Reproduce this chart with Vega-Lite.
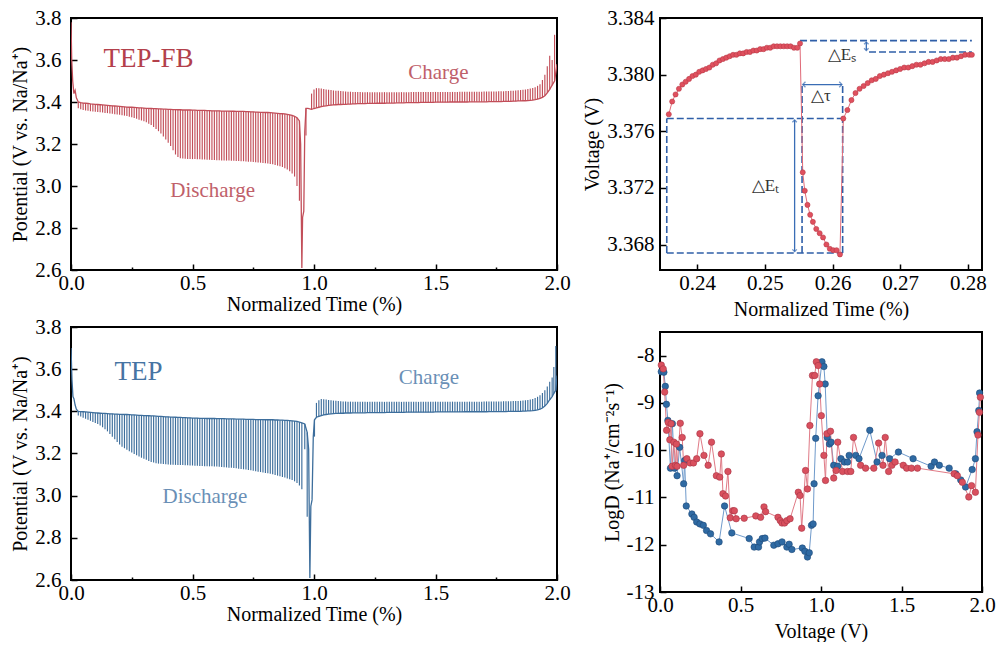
{
"$schema":"https://vega.github.io/schema/vega-lite/v6.json",
"background":"white",
"padding":{"left":9,"top":6,"right":0,"bottom":0},
"config":{
 "font":"Liberation Serif",
 "view":{"stroke":"black","strokeWidth":2},
 "style":{"guide-title":{"font":"Liberation Serif"},"guide-label":{"font":"Liberation Serif"}},
 "axis":{"domain":false,"grid":false,"labelFont":"Liberation Serif","labelFontSize":21,"labelColor":"black","titleFont":"Liberation Serif","titleFontSize":20,"titleFontWeight":"normal","titleColor":"black","tickColor":"black","tickWidth":1.5,"tickSize":-6,"labelPadding":8,"labelFlush":false,"labelOverlap":false},
 "axisY":{"labelPadding":16}
},
"datasets":{
 "fb":[
  {"t":0,"b":3.78},{"t":0.003,"b":3.6},{"t":0.007,"b":3.5},{"t":0.012,"b":3.44},{"t":0.017,"b":3.455},{"t":0.022,"b":3.42},
  {"t":0.03,"b":3.4,"s":3.37},{"t":0.04,"b":3.397,"s":3.366},{"t":0.05,"b":3.395,"s":3.362},{"t":0.06,"b":3.394,"s":3.36},{"t":0.07,"b":3.393,"s":3.358},{"t":0.08,"b":3.391,"s":3.356},{"t":0.09,"b":3.39,"s":3.355},{"t":0.1,"b":3.389,"s":3.353},{"t":0.11,"b":3.388,"s":3.352},{"t":0.12,"b":3.387,"s":3.351},{"t":0.13,"b":3.386,"s":3.35},{"t":0.14,"b":3.385,"s":3.348},{"t":0.15,"b":3.384,"s":3.347},{"t":0.16,"b":3.383,"s":3.345},{"t":0.17,"b":3.382,"s":3.344},{"t":0.18,"b":3.381,"s":3.342},{"t":0.19,"b":3.38,"s":3.341},{"t":0.2,"b":3.379,"s":3.339},{"t":0.21,"b":3.378,"s":3.337},{"t":0.22,"b":3.377,"s":3.335},{"t":0.23,"b":3.376,"s":3.333},{"t":0.24,"b":3.375,"s":3.33},{"t":0.25,"b":3.375,"s":3.327},{"t":0.26,"b":3.374,"s":3.324},{"t":0.27,"b":3.373,"s":3.32},{"t":0.28,"b":3.372,"s":3.316},{"t":0.29,"b":3.372,"s":3.312},{"t":0.3,"b":3.371,"s":3.308},{"t":0.31,"b":3.37,"s":3.303},{"t":0.32,"b":3.37,"s":3.297},{"t":0.33,"b":3.369,"s":3.29},{"t":0.34,"b":3.368,"s":3.281},{"t":0.35,"b":3.368,"s":3.272},{"t":0.36,"b":3.367,"s":3.261},{"t":0.37,"b":3.367,"s":3.25},{"t":0.38,"b":3.366,"s":3.236},{"t":0.39,"b":3.366,"s":3.222},{"t":0.4,"b":3.365,"s":3.206},{"t":0.41,"b":3.365,"s":3.19},{"t":0.42,"b":3.364,"s":3.17},{"t":0.43,"b":3.364,"s":3.15},{"t":0.44,"b":3.363,"s":3.138},{"t":0.45,"b":3.363,"s":3.132},{"t":0.46,"b":3.362,"s":3.131},{"t":0.47,"b":3.362,"s":3.13},{"t":0.48,"b":3.362,"s":3.129},{"t":0.49,"b":3.362,"s":3.128},{"t":0.5,"b":3.361,"s":3.128},{"t":0.51,"b":3.361,"s":3.128},{"t":0.52,"b":3.36,"s":3.127},{"t":0.53,"b":3.36,"s":3.127},{"t":0.54,"b":3.36,"s":3.126},{"t":0.55,"b":3.36,"s":3.126},{"t":0.56,"b":3.359,"s":3.125},{"t":0.57,"b":3.359,"s":3.125},{"t":0.58,"b":3.358,"s":3.124},{"t":0.59,"b":3.358,"s":3.124},{"t":0.6,"b":3.358,"s":3.123},{"t":0.61,"b":3.358,"s":3.123},{"t":0.62,"b":3.357,"s":3.122},{"t":0.63,"b":3.357,"s":3.122},{"t":0.64,"b":3.357,"s":3.121},{"t":0.65,"b":3.357,"s":3.121},{"t":0.66,"b":3.356,"s":3.12},{"t":0.67,"b":3.356,"s":3.12},{"t":0.68,"b":3.355,"s":3.119},{"t":0.69,"b":3.355,"s":3.119},{"t":0.7,"b":3.355,"s":3.118},{"t":0.71,"b":3.355,"s":3.118},{"t":0.72,"b":3.354,"s":3.117},{"t":0.73,"b":3.354,"s":3.116},{"t":0.74,"b":3.353,"s":3.115},{"t":0.75,"b":3.353,"s":3.114},{"t":0.76,"b":3.352,"s":3.113},{"t":0.77,"b":3.352,"s":3.112},{"t":0.78,"b":3.351,"s":3.111},{"t":0.79,"b":3.351,"s":3.11},{"t":0.8,"b":3.35,"s":3.108},{"t":0.81,"b":3.35,"s":3.107},{"t":0.82,"b":3.349,"s":3.105},{"t":0.83,"b":3.348,"s":3.103},{"t":0.84,"b":3.347,"s":3.1},{"t":0.85,"b":3.346,"s":3.097},{"t":0.86,"b":3.345,"s":3.094},{"t":0.87,"b":3.344,"s":3.09},{"t":0.88,"b":3.343,"s":3.085},{"t":0.89,"b":3.341,"s":3.078},{"t":0.9,"b":3.339,"s":3.07},{"t":0.91,"b":3.336,"s":3.06},{"t":0.92,"b":3.332,"s":3.045},{"t":0.93,"b":3.325,"s":3.0},
  {"t":0.94,"b":3.31,"s":2.93},{"t":0.945,"b":3.2},{"t":0.95,"b":2.61},{"t":0.953,"b":2.85},{"t":0.958,"b":2.88},{"t":0.962,"b":3.26},{"t":0.967,"b":3.37,"s":3.24},{"t":0.975,"b":3.37},
  {"t":0.99,"b":3.365,"s":3.44},{"t":1.0,"b":3.369,"s":3.46},{"t":1.01,"b":3.372,"s":3.466},{"t":1.02,"b":3.375,"s":3.465},{"t":1.03,"b":3.378,"s":3.464},{"t":1.04,"b":3.38,"s":3.462},{"t":1.05,"b":3.382,"s":3.46},{"t":1.06,"b":3.384,"s":3.458},{"t":1.07,"b":3.385,"s":3.457},{"t":1.08,"b":3.386,"s":3.455},{"t":1.09,"b":3.387,"s":3.454},{"t":1.1,"b":3.388,"s":3.453},{"t":1.11,"b":3.388,"s":3.452},{"t":1.12,"b":3.389,"s":3.451},{"t":1.13,"b":3.389,"s":3.45},{"t":1.14,"b":3.39,"s":3.449},{"t":1.15,"b":3.39,"s":3.449},{"t":1.16,"b":3.391,"s":3.448},{"t":1.17,"b":3.391,"s":3.448},{"t":1.18,"b":3.392,"s":3.448},{"t":1.19,"b":3.392,"s":3.448},{"t":1.2,"b":3.392,"s":3.447},{"t":1.21,"b":3.392,"s":3.447},{"t":1.22,"b":3.393,"s":3.447},{"t":1.23,"b":3.393,"s":3.447},{"t":1.24,"b":3.393,"s":3.447},{"t":1.25,"b":3.393,"s":3.447},{"t":1.26,"b":3.394,"s":3.447},{"t":1.27,"b":3.394,"s":3.447},{"t":1.28,"b":3.394,"s":3.447},{"t":1.29,"b":3.394,"s":3.447},{"t":1.3,"b":3.395,"s":3.447},{"t":1.31,"b":3.395,"s":3.447},{"t":1.32,"b":3.395,"s":3.447},{"t":1.33,"b":3.395,"s":3.447},{"t":1.34,"b":3.396,"s":3.447},{"t":1.35,"b":3.396,"s":3.447},{"t":1.36,"b":3.396,"s":3.447},{"t":1.37,"b":3.396,"s":3.447},{"t":1.38,"b":3.397,"s":3.447},{"t":1.39,"b":3.397,"s":3.447},{"t":1.4,"b":3.397,"s":3.448},{"t":1.41,"b":3.397,"s":3.448},{"t":1.42,"b":3.397,"s":3.448},{"t":1.43,"b":3.397,"s":3.448},{"t":1.44,"b":3.398,"s":3.448},{"t":1.45,"b":3.398,"s":3.448},{"t":1.46,"b":3.398,"s":3.448},{"t":1.47,"b":3.398,"s":3.448},{"t":1.48,"b":3.398,"s":3.448},{"t":1.49,"b":3.398,"s":3.448},{"t":1.5,"b":3.399,"s":3.448},{"t":1.51,"b":3.399,"s":3.448},{"t":1.52,"b":3.399,"s":3.448},{"t":1.53,"b":3.399,"s":3.448},{"t":1.54,"b":3.399,"s":3.448},{"t":1.55,"b":3.399,"s":3.448},{"t":1.56,"b":3.4,"s":3.448},{"t":1.57,"b":3.4,"s":3.448},{"t":1.58,"b":3.4,"s":3.448},{"t":1.59,"b":3.4,"s":3.448},{"t":1.6,"b":3.4,"s":3.449},{"t":1.61,"b":3.4,"s":3.449},{"t":1.62,"b":3.4,"s":3.449},{"t":1.63,"b":3.4,"s":3.449},{"t":1.64,"b":3.401,"s":3.449},{"t":1.65,"b":3.401,"s":3.449},{"t":1.66,"b":3.401,"s":3.449},{"t":1.67,"b":3.401,"s":3.449},{"t":1.68,"b":3.401,"s":3.449},{"t":1.69,"b":3.401,"s":3.449},{"t":1.7,"b":3.401,"s":3.45},{"t":1.71,"b":3.401,"s":3.45},{"t":1.72,"b":3.402,"s":3.45},{"t":1.73,"b":3.402,"s":3.45},{"t":1.74,"b":3.402,"s":3.45},{"t":1.75,"b":3.402,"s":3.45},{"t":1.76,"b":3.402,"s":3.451},{"t":1.77,"b":3.402,"s":3.451},{"t":1.78,"b":3.403,"s":3.451},{"t":1.79,"b":3.403,"s":3.452},{"t":1.8,"b":3.403,"s":3.452},{"t":1.81,"b":3.403,"s":3.453},{"t":1.82,"b":3.404,"s":3.454},{"t":1.83,"b":3.404,"s":3.455},{"t":1.84,"b":3.405,"s":3.456},{"t":1.85,"b":3.405,"s":3.457},{"t":1.86,"b":3.406,"s":3.458},{"t":1.87,"b":3.406,"s":3.46},{"t":1.88,"b":3.407,"s":3.462},{"t":1.89,"b":3.408,"s":3.464},{"t":1.9,"b":3.409,"s":3.467},{"t":1.91,"b":3.411,"s":3.47},{"t":1.92,"b":3.414,"s":3.477},{"t":1.93,"b":3.417,"s":3.485},{"t":1.94,"b":3.422,"s":3.505},{"t":1.95,"b":3.43,"s":3.53},{"t":1.96,"b":3.443,"s":3.57},{"t":1.97,"b":3.46,"s":3.62},{"t":1.98,"b":3.48,"s":3.6},{"t":1.99,"b":3.5,"s":3.72},{"t":2.0,"b":3.58}
 ],
 "tep":[
  {"t":0,"b":3.7},{"t":0.004,"b":3.55},{"t":0.008,"b":3.47},{"t":0.012,"b":3.46},{"t":0.017,"b":3.43},{"t":0.022,"b":3.41},
  {"t":0.03,"b":3.4,"s":3.38},{"t":0.04,"b":3.399,"s":3.375},{"t":0.05,"b":3.398,"s":3.37},{"t":0.06,"b":3.397,"s":3.365},{"t":0.07,"b":3.396,"s":3.36},{"t":0.08,"b":3.395,"s":3.355},{"t":0.09,"b":3.394,"s":3.35},{"t":0.1,"b":3.393,"s":3.345},{"t":0.11,"b":3.392,"s":3.34},{"t":0.12,"b":3.391,"s":3.333},{"t":0.13,"b":3.39,"s":3.325},{"t":0.14,"b":3.39,"s":3.315},{"t":0.15,"b":3.389,"s":3.305},{"t":0.16,"b":3.388,"s":3.293},{"t":0.17,"b":3.388,"s":3.28},{"t":0.18,"b":3.387,"s":3.267},{"t":0.19,"b":3.387,"s":3.255},{"t":0.2,"b":3.386,"s":3.243},{"t":0.21,"b":3.386,"s":3.232},{"t":0.22,"b":3.385,"s":3.225},{"t":0.23,"b":3.385,"s":3.218},{"t":0.24,"b":3.384,"s":3.211},{"t":0.25,"b":3.383,"s":3.205},{"t":0.26,"b":3.383,"s":3.198},{"t":0.27,"b":3.382,"s":3.192},{"t":0.28,"b":3.381,"s":3.186},{"t":0.29,"b":3.381,"s":3.18},{"t":0.3,"b":3.38,"s":3.175},{"t":0.31,"b":3.38,"s":3.17},{"t":0.32,"b":3.379,"s":3.165},{"t":0.33,"b":3.378,"s":3.16},{"t":0.34,"b":3.378,"s":3.157},{"t":0.35,"b":3.377,"s":3.154},{"t":0.36,"b":3.376,"s":3.152},{"t":0.37,"b":3.376,"s":3.151},{"t":0.38,"b":3.375,"s":3.15},{"t":0.39,"b":3.374,"s":3.149},{"t":0.4,"b":3.374,"s":3.148},{"t":0.41,"b":3.373,"s":3.147},{"t":0.42,"b":3.373,"s":3.147},{"t":0.43,"b":3.372,"s":3.146},{"t":0.44,"b":3.371,"s":3.146},{"t":0.45,"b":3.371,"s":3.145},{"t":0.46,"b":3.37,"s":3.145},{"t":0.47,"b":3.37,"s":3.144},{"t":0.48,"b":3.369,"s":3.144},{"t":0.49,"b":3.369,"s":3.143},{"t":0.5,"b":3.368,"s":3.143},{"t":0.51,"b":3.368,"s":3.142},{"t":0.52,"b":3.368,"s":3.142},{"t":0.53,"b":3.367,"s":3.141},{"t":0.54,"b":3.367,"s":3.141},{"t":0.55,"b":3.367,"s":3.14},{"t":0.56,"b":3.366,"s":3.14},{"t":0.57,"b":3.366,"s":3.139},{"t":0.58,"b":3.366,"s":3.139},{"t":0.59,"b":3.366,"s":3.138},{"t":0.6,"b":3.365,"s":3.138},{"t":0.61,"b":3.365,"s":3.137},{"t":0.62,"b":3.365,"s":3.136},{"t":0.63,"b":3.365,"s":3.135},{"t":0.64,"b":3.364,"s":3.134},{"t":0.65,"b":3.364,"s":3.133},{"t":0.66,"b":3.364,"s":3.132},{"t":0.67,"b":3.364,"s":3.131},{"t":0.68,"b":3.363,"s":3.13},{"t":0.69,"b":3.363,"s":3.128},{"t":0.7,"b":3.363,"s":3.127},{"t":0.71,"b":3.363,"s":3.125},{"t":0.72,"b":3.362,"s":3.124},{"t":0.73,"b":3.362,"s":3.122},{"t":0.74,"b":3.362,"s":3.12},{"t":0.75,"b":3.362,"s":3.118},{"t":0.76,"b":3.361,"s":3.116},{"t":0.77,"b":3.361,"s":3.114},{"t":0.78,"b":3.361,"s":3.112},{"t":0.79,"b":3.361,"s":3.11},{"t":0.8,"b":3.36,"s":3.108},{"t":0.81,"b":3.36,"s":3.106},{"t":0.82,"b":3.36,"s":3.104},{"t":0.83,"b":3.36,"s":3.101},{"t":0.84,"b":3.359,"s":3.098},{"t":0.85,"b":3.359,"s":3.095},{"t":0.86,"b":3.358,"s":3.092},{"t":0.87,"b":3.358,"s":3.089},{"t":0.88,"b":3.357,"s":3.086},{"t":0.89,"b":3.357,"s":3.082},{"t":0.9,"b":3.356,"s":3.078},{"t":0.91,"b":3.355,"s":3.074},{"t":0.92,"b":3.354,"s":3.068},{"t":0.93,"b":3.352,"s":3.06},{"t":0.94,"b":3.349,"s":3.048},{"t":0.95,"b":3.345,"s":3.03},
  {"t":0.962,"b":3.34,"s":3.22},{"t":0.972,"b":3.3,"s":2.9},{"t":0.978,"b":3.22},{"t":0.983,"b":2.61},{"t":0.987,"b":2.95},{"t":0.992,"b":2.98},{"t":0.997,"b":3.28},{"t":1.002,"b":3.36,"s":3.28},
  {"t":1.01,"b":3.372,"s":3.44},{"t":1.02,"b":3.376,"s":3.452},{"t":1.03,"b":3.38,"s":3.458},{"t":1.04,"b":3.383,"s":3.457},{"t":1.05,"b":3.385,"s":3.456},{"t":1.06,"b":3.387,"s":3.454},{"t":1.07,"b":3.388,"s":3.452},{"t":1.08,"b":3.389,"s":3.451},{"t":1.09,"b":3.39,"s":3.45},{"t":1.1,"b":3.39,"s":3.449},{"t":1.11,"b":3.391,"s":3.448},{"t":1.12,"b":3.391,"s":3.447},{"t":1.13,"b":3.392,"s":3.447},{"t":1.14,"b":3.392,"s":3.446},{"t":1.15,"b":3.392,"s":3.446},{"t":1.16,"b":3.393,"s":3.446},{"t":1.17,"b":3.393,"s":3.446},{"t":1.18,"b":3.393,"s":3.446},{"t":1.19,"b":3.393,"s":3.446},{"t":1.2,"b":3.393,"s":3.445},{"t":1.21,"b":3.393,"s":3.445},{"t":1.22,"b":3.394,"s":3.445},{"t":1.23,"b":3.394,"s":3.445},{"t":1.24,"b":3.394,"s":3.445},{"t":1.25,"b":3.394,"s":3.445},{"t":1.26,"b":3.394,"s":3.445},{"t":1.27,"b":3.394,"s":3.445},{"t":1.28,"b":3.394,"s":3.445},{"t":1.29,"b":3.394,"s":3.445},{"t":1.3,"b":3.395,"s":3.445},{"t":1.31,"b":3.395,"s":3.445},{"t":1.32,"b":3.395,"s":3.445},{"t":1.33,"b":3.395,"s":3.445},{"t":1.34,"b":3.395,"s":3.445},{"t":1.35,"b":3.395,"s":3.445},{"t":1.36,"b":3.395,"s":3.445},{"t":1.37,"b":3.395,"s":3.445},{"t":1.38,"b":3.396,"s":3.445},{"t":1.39,"b":3.396,"s":3.445},{"t":1.4,"b":3.396,"s":3.445},{"t":1.41,"b":3.396,"s":3.445},{"t":1.42,"b":3.396,"s":3.445},{"t":1.43,"b":3.396,"s":3.445},{"t":1.44,"b":3.396,"s":3.446},{"t":1.45,"b":3.396,"s":3.446},{"t":1.46,"b":3.396,"s":3.446},{"t":1.47,"b":3.396,"s":3.446},{"t":1.48,"b":3.396,"s":3.446},{"t":1.49,"b":3.396,"s":3.446},{"t":1.5,"b":3.397,"s":3.446},{"t":1.51,"b":3.397,"s":3.446},{"t":1.52,"b":3.397,"s":3.446},{"t":1.53,"b":3.397,"s":3.446},{"t":1.54,"b":3.397,"s":3.446},{"t":1.55,"b":3.397,"s":3.446},{"t":1.56,"b":3.397,"s":3.446},{"t":1.57,"b":3.397,"s":3.446},{"t":1.58,"b":3.397,"s":3.446},{"t":1.59,"b":3.397,"s":3.446},{"t":1.6,"b":3.397,"s":3.446},{"t":1.61,"b":3.397,"s":3.446},{"t":1.62,"b":3.398,"s":3.446},{"t":1.63,"b":3.398,"s":3.446},{"t":1.64,"b":3.398,"s":3.446},{"t":1.65,"b":3.398,"s":3.446},{"t":1.66,"b":3.398,"s":3.446},{"t":1.67,"b":3.398,"s":3.446},{"t":1.68,"b":3.398,"s":3.446},{"t":1.69,"b":3.398,"s":3.446},{"t":1.7,"b":3.398,"s":3.447},{"t":1.71,"b":3.398,"s":3.447},{"t":1.72,"b":3.399,"s":3.447},{"t":1.73,"b":3.399,"s":3.447},{"t":1.74,"b":3.399,"s":3.447},{"t":1.75,"b":3.399,"s":3.447},{"t":1.76,"b":3.399,"s":3.447},{"t":1.77,"b":3.399,"s":3.447},{"t":1.78,"b":3.399,"s":3.448},{"t":1.79,"b":3.399,"s":3.448},{"t":1.8,"b":3.4,"s":3.448},{"t":1.81,"b":3.4,"s":3.448},{"t":1.82,"b":3.4,"s":3.449},{"t":1.83,"b":3.4,"s":3.449},{"t":1.84,"b":3.4,"s":3.449},{"t":1.85,"b":3.4,"s":3.45},{"t":1.86,"b":3.401,"s":3.451},{"t":1.87,"b":3.401,"s":3.452},{"t":1.88,"b":3.402,"s":3.454},{"t":1.89,"b":3.402,"s":3.456},{"t":1.9,"b":3.403,"s":3.459},{"t":1.91,"b":3.405,"s":3.463},{"t":1.92,"b":3.407,"s":3.469},{"t":1.93,"b":3.41,"s":3.476},{"t":1.94,"b":3.416,"s":3.487},{"t":1.95,"b":3.425,"s":3.5},{"t":1.96,"b":3.438,"s":3.518},{"t":1.97,"b":3.455,"s":3.54},{"t":1.98,"b":3.47,"s":3.56},{"t":1.987,"b":3.485,"s":3.61},{"t":1.995,"b":3.5,"s":3.71},{"t":2.0,"b":3.57}
 ],
 "ins":[
  {"t":0.2358,"v":3.3772},{"t":0.2363,"v":3.3781},{"t":0.2368,"v":3.3786},{"t":0.2373,"v":3.379},{"t":0.2378,"v":3.3793},{"t":0.2383,"v":3.3795},{"t":0.2388,"v":3.3797},{"t":0.2393,"v":3.3799},{"t":0.2398,"v":3.38},{"t":0.2403,"v":3.3802},{"t":0.2408,"v":3.3803},{"t":0.2413,"v":3.3804},{"t":0.2418,"v":3.3805},{"t":0.2423,"v":3.3807},{"t":0.2428,"v":3.3808},{"t":0.2433,"v":3.381},{"t":0.2438,"v":3.3811},{"t":0.2443,"v":3.3812},{"t":0.2448,"v":3.3813},{"t":0.2453,"v":3.3814},{"t":0.2458,"v":3.3814},{"t":0.2463,"v":3.3815},{"t":0.2468,"v":3.3815},{"t":0.2473,"v":3.3816},{"t":0.2478,"v":3.3816},{"t":0.2483,"v":3.3817},{"t":0.2488,"v":3.3817},{"t":0.2493,"v":3.3818},{"t":0.2498,"v":3.3818},{"t":0.2503,"v":3.3819},{"t":0.2508,"v":3.3819},{"t":0.2513,"v":3.382},{"t":0.2518,"v":3.382},{"t":0.2523,"v":3.382},{"t":0.2528,"v":3.382},{"t":0.2533,"v":3.382},{"t":0.2538,"v":3.382},{"t":0.2543,"v":3.3819},{"t":0.2548,"v":3.3819},{"t":0.2552,"v":3.3822},
  {"t":0.2556,"v":3.3731},{"t":0.2559,"v":3.3718},{"t":0.2563,"v":3.3708},{"t":0.2567,"v":3.3701},{"t":0.2571,"v":3.3696},{"t":0.2576,"v":3.3691},{"t":0.2581,"v":3.3688},{"t":0.2586,"v":3.3685},{"t":0.2591,"v":3.368},{"t":0.2596,"v":3.3677},{"t":0.2601,"v":3.3676},{"t":0.2606,"v":3.3676},{"t":0.2611,"v":3.3673},
  {"t":0.2616,"v":3.3769},{"t":0.2622,"v":3.3775},{"t":0.2628,"v":3.3782},{"t":0.2634,"v":3.3787},{"t":0.264,"v":3.379},{"t":0.2646,"v":3.3792},{"t":0.2652,"v":3.3794},{"t":0.2658,"v":3.3796},{"t":0.2664,"v":3.3797},{"t":0.267,"v":3.3799},{"t":0.2676,"v":3.38},{"t":0.2682,"v":3.3801},{"t":0.2688,"v":3.3802},{"t":0.2694,"v":3.3803},{"t":0.27,"v":3.3804},{"t":0.2706,"v":3.3805},{"t":0.2712,"v":3.3805},{"t":0.2718,"v":3.3806},{"t":0.2724,"v":3.3807},{"t":0.273,"v":3.3807},{"t":0.2736,"v":3.3808},{"t":0.2742,"v":3.3809},{"t":0.2748,"v":3.3809},{"t":0.2754,"v":3.381},{"t":0.276,"v":3.3811},{"t":0.2766,"v":3.3811},{"t":0.2772,"v":3.3811},{"t":0.2778,"v":3.3812},{"t":0.2784,"v":3.3812},{"t":0.279,"v":3.3813},{"t":0.2796,"v":3.3814},{"t":0.2802,"v":3.3814},{"t":0.2806,"v":3.3814}
 ],
 "dash":[
  {"t":0.2355,"t2":0.2615,"v":3.3769,"v2":3.3769},{"t":0.2355,"t2":0.2615,"v":3.3674,"v2":3.3674},{"t":0.2355,"t2":0.2355,"v":3.3674,"v2":3.3769},{"t":0.2555,"t2":0.2555,"v":3.3674,"v2":3.3793},{"t":0.2615,"t2":0.2615,"v":3.3674,"v2":3.3793},{"t":0.2552,"t2":0.2806,"v":3.3824,"v2":3.3824},{"t":0.2654,"t2":0.2806,"v":3.3816,"v2":3.3816}
 ],
 "arr":[
  {"t":0.2556,"t2":0.2614,"v":3.3793,"v2":3.3793},{"t":0.2544,"t2":0.2544,"v":3.3768,"v2":3.3675},{"t":0.265,"t2":0.265,"v":3.3823,"v2":3.3817}
 ],
 "head":[
  {"t":0.2556,"v":3.3793,"d":"l"},{"t":0.2614,"v":3.3793,"d":"r"},{"t":0.2544,"v":3.3768,"d":"u"},{"t":0.2544,"v":3.3675,"d":"dn"},{"t":0.265,"v":3.3823,"d":"u"},{"t":0.265,"v":3.3817,"d":"dn"}
 ],
 "lab":[
  {"t":0.2501,"v":3.3721,"txt":"△Eₜ"},{"t":0.2583,"v":3.3785,"txt":"△τ"},{"t":0.2614,"v":3.3814,"txt":"△Eₛ"}
 ],
 "logd":[
  {"s":"TEP","x":0.008,"y":-8.34},{"s":"TEP","x":0.024,"y":-8.35},{"s":"TEP","x":0.033,"y":-8.65},{"s":"TEP","x":0.04,"y":-9.03},{"s":"TEP","x":0.049,"y":-9.37},{"s":"TEP","x":0.065,"y":-10.38},{"s":"TEP","x":0.077,"y":-9.44},{"s":"TEP","x":0.09,"y":-10.38},{"s":"TEP","x":0.106,"y":-10.54},{"s":"TEP","x":0.122,"y":-9.94},{"s":"TEP","x":0.147,"y":-10.71},{"s":"TEP","x":0.153,"y":-10.22},{"s":"TEP","x":0.163,"y":-11.18},{"s":"TEP","x":0.198,"y":-11.35},{"s":"TEP","x":0.212,"y":-11.42},{"s":"TEP","x":0.228,"y":-11.52},{"s":"TEP","x":0.248,"y":-11.56},{"s":"TEP","x":0.269,"y":-11.59},{"s":"TEP","x":0.289,"y":-11.7},{"s":"TEP","x":0.314,"y":-11.77},{"s":"TEP","x":0.367,"y":-11.94},{"s":"TEP","x":0.401,"y":-11.18},{"s":"TEP","x":0.446,"y":-11.75},{"s":"TEP","x":0.554,"y":-11.87},{"s":"TEP","x":0.585,"y":-12.05},{"s":"TEP","x":0.612,"y":-12.05},{"s":"TEP","x":0.618,"y":-11.94},{"s":"TEP","x":0.635,"y":-11.87},{"s":"TEP","x":0.652,"y":-11.86},{"s":"TEP","x":0.707,"y":-12.01},{"s":"TEP","x":0.733,"y":-11.98},{"s":"TEP","x":0.758,"y":-11.94},{"s":"TEP","x":0.788,"y":-12.05},{"s":"TEP","x":0.802,"y":-11.99},{"s":"TEP","x":0.819,"y":-12.1},{"s":"TEP","x":0.884,"y":-12.07},{"s":"TEP","x":0.9,"y":-12.14},{"s":"TEP","x":0.916,"y":-12.26},{"s":"TEP","x":0.927,"y":-12.17},{"s":"TEP","x":0.941,"y":-11.59},{"s":"TEP","x":0.951,"y":-11.56},{"s":"TEP","x":0.957,"y":-10.71},{"s":"TEP","x":0.967,"y":-9.75},{"s":"TEP","x":0.982,"y":-8.85},{"s":"TEP","x":1.006,"y":-8.13},{"s":"TEP","x":1.018,"y":-8.23},{"s":"TEP","x":1.026,"y":-8.6},{"s":"TEP","x":1.039,"y":-9.73},{"s":"TEP","x":1.053,"y":-9.87},{"s":"TEP","x":1.063,"y":-9.83},{"s":"TEP","x":1.079,"y":-10.32},{"s":"TEP","x":1.104,"y":-10.34},{"s":"TEP","x":1.124,"y":-10.18},{"s":"TEP","x":1.145,"y":-10.25},{"s":"TEP","x":1.165,"y":-10.25},{"s":"TEP","x":1.175,"y":-10.11},{"s":"TEP","x":1.216,"y":-10.11},{"s":"TEP","x":1.236,"y":-10.18},{"s":"TEP","x":1.303,"y":-9.58},{"s":"TEP","x":1.348,"y":-10.25},{"s":"TEP","x":1.379,"y":-10.11},{"s":"TEP","x":1.426,"y":-10.18},{"s":"TEP","x":1.481,"y":-10.04},{"s":"TEP","x":1.572,"y":-10.18},{"s":"TEP","x":1.684,"y":-10.34},{"s":"TEP","x":1.705,"y":-10.25},{"s":"TEP","x":1.735,"y":-10.32},{"s":"TEP","x":1.796,"y":-10.38},{"s":"TEP","x":1.837,"y":-10.5},{"s":"TEP","x":1.868,"y":-10.63},{"s":"TEP","x":1.898,"y":-10.78},{"s":"TEP","x":1.939,"y":-10.41},{"s":"TEP","x":1.959,"y":-10.18},{"s":"TEP","x":1.969,"y":-9.61},{"s":"TEP","x":1.98,"y":-9.16},{"s":"TEP","x":1.985,"y":-8.79},
  {"s":"FB","x":0.008,"y":-8.2},{"s":"FB","x":0.02,"y":-8.28},{"s":"FB","x":0.029,"y":-8.77},{"s":"FB","x":0.041,"y":-9.58},{"s":"FB","x":0.051,"y":-9.41},{"s":"FB","x":0.061,"y":-9.78},{"s":"FB","x":0.069,"y":-9.44},{"s":"FB","x":0.075,"y":-10.34},{"s":"FB","x":0.086,"y":-9.83},{"s":"FB","x":0.096,"y":-10.32},{"s":"FB","x":0.102,"y":-9.87},{"s":"FB","x":0.106,"y":-10.34},{"s":"FB","x":0.126,"y":-9.43},{"s":"FB","x":0.138,"y":-9.73},{"s":"FB","x":0.147,"y":-10.32},{"s":"FB","x":0.167,"y":-10.18},{"s":"FB","x":0.187,"y":-10.27},{"s":"FB","x":0.208,"y":-10.27},{"s":"FB","x":0.228,"y":-10.18},{"s":"FB","x":0.248,"y":-9.65},{"s":"FB","x":0.273,"y":-10.11},{"s":"FB","x":0.299,"y":-10.32},{"s":"FB","x":0.32,"y":-9.83},{"s":"FB","x":0.35,"y":-10.54},{"s":"FB","x":0.371,"y":-10.57},{"s":"FB","x":0.381,"y":-10.08},{"s":"FB","x":0.391,"y":-10.92},{"s":"FB","x":0.407,"y":-10.97},{"s":"FB","x":0.422,"y":-10.45},{"s":"FB","x":0.436,"y":-11.43},{"s":"FB","x":0.452,"y":-11.28},{"s":"FB","x":0.462,"y":-11.28},{"s":"FB","x":0.473,"y":-11.45},{"s":"FB","x":0.523,"y":-11.44},{"s":"FB","x":0.595,"y":-11.39},{"s":"FB","x":0.625,"y":-11.42},{"s":"FB","x":0.646,"y":-11.2},{"s":"FB","x":0.656,"y":-11.3},{"s":"FB","x":0.733,"y":-11.42},{"s":"FB","x":0.747,"y":-11.49},{"s":"FB","x":0.758,"y":-11.54},{"s":"FB","x":0.774,"y":-11.54},{"s":"FB","x":0.788,"y":-11.49},{"s":"FB","x":0.808,"y":-11.45},{"s":"FB","x":0.859,"y":-10.89},{"s":"FB","x":0.87,"y":-10.96},{"s":"FB","x":0.88,"y":-11.65},{"s":"FB","x":0.904,"y":-10.43},{"s":"FB","x":0.916,"y":-10.82},{"s":"FB","x":0.931,"y":-9.48},{"s":"FB","x":0.947,"y":-8.42},{"s":"FB","x":0.961,"y":-8.42},{"s":"FB","x":0.971,"y":-8.13},{"s":"FB","x":0.982,"y":-8.21},{"s":"FB","x":0.992,"y":-8.6},{"s":"FB","x":1.002,"y":-9.27},{"s":"FB","x":1.018,"y":-10.11},{"s":"FB","x":1.028,"y":-10.64},{"s":"FB","x":1.037,"y":-9.65},{"s":"FB","x":1.059,"y":-9.6},{"s":"FB","x":1.079,"y":-10.59},{"s":"FB","x":1.094,"y":-10.43},{"s":"FB","x":1.104,"y":-9.83},{"s":"FB","x":1.134,"y":-10.45},{"s":"FB","x":1.165,"y":-10.45},{"s":"FB","x":1.185,"y":-10.45},{"s":"FB","x":1.202,"y":-9.73},{"s":"FB","x":1.246,"y":-10.32},{"s":"FB","x":1.277,"y":-10.38},{"s":"FB","x":1.328,"y":-10.38},{"s":"FB","x":1.358,"y":-9.85},{"s":"FB","x":1.385,"y":-10.32},{"s":"FB","x":1.399,"y":-9.73},{"s":"FB","x":1.42,"y":-10.45},{"s":"FB","x":1.44,"y":-10.32},{"s":"FB","x":1.46,"y":-10.25},{"s":"FB","x":1.511,"y":-10.32},{"s":"FB","x":1.532,"y":-10.38},{"s":"FB","x":1.562,"y":-10.38},{"s":"FB","x":1.599,"y":-10.38},{"s":"FB","x":1.827,"y":-10.5},{"s":"FB","x":1.847,"y":-10.54},{"s":"FB","x":1.878,"y":-10.68},{"s":"FB","x":1.918,"y":-10.99},{"s":"FB","x":1.935,"y":-10.75},{"s":"FB","x":1.959,"y":-10.89},{"s":"FB","x":1.975,"y":-9.68},{"s":"FB","x":1.984,"y":-9.2},{"s":"FB","x":1.99,"y":-8.88}
 ]
},
"spacing":9,
"hconcat":[
 {"spacing":0,"vconcat":[
  {"width":486,"height":252,
   "data":{"name":"fb"},
   "encoding":{"x":{"field":"t","type":"quantitative","scale":{"domain":[0,2],"nice":false,"zero":false},"axis":{"title":"Normalized Time (%)","titleFont":"Liberation Serif","labelFont":"Liberation Serif","titlePadding":-2,"values":[0,0.25,0.5,0.75,1,1.25,1.5,1.75,2],"labelExpr":"abs(datum.value*2-round(datum.value*2))>0.001?'':format(datum.value,'.1f')","tickSize":{"condition":{"test":"abs(datum.value*2-round(datum.value*2))>0.001","value":-3},"value":-6}}}},
   "layer":[
    {"mark":{"type":"line","color":"#c24e59","strokeWidth":1.3,"clip":true},"encoding":{"y":{"field":"b","type":"quantitative","scale":{"domain":[2.6,3.8],"nice":false,"zero":false},"axis":{"title":"Potential (V vs. Na/Na⁺)","titleFont":"Liberation Serif","labelFont":"Liberation Serif","labelPadding":16,"values":[2.6,2.7,2.8,2.9,3,3.1,3.2,3.3,3.4,3.5,3.6,3.7,3.8],"labelExpr":"abs(datum.value*5-round(datum.value*5))>0.001?'':format(datum.value,'.1f')","tickSize":{"condition":{"test":"abs(datum.value*5-round(datum.value*5))>0.001","value":-3},"value":-6}}}}},
    {"transform":[{"filter":"isValid(datum.s)"}],"mark":{"type":"rule","color":"#c24e59","strokeWidth":1.15,"clip":true},"encoding":{"y":{"field":"b","type":"quantitative"},"y2":{"field":"s"}}},
    {"data":{"values":[{"t":0.319,"b":3.605,"txt":"TEP-FB"}]},"mark":{"type":"text","font":"Liberation Serif","fontSize":27,"color":"#b3404b"},"encoding":{"y":{"field":"b","type":"quantitative"},"text":{"field":"txt"}}},
    {"data":{"values":[{"t":1.512,"b":3.54,"txt":"Charge"},{"t":0.583,"b":2.976,"txt":"Discharge"}]},"mark":{"type":"text","font":"Liberation Serif","fontSize":21,"color":"#c0606a"},"encoding":{"y":{"field":"b","type":"quantitative"},"text":{"field":"txt"}}}
   ]},
  {"width":486,"height":253,
   "data":{"name":"tep"},
   "encoding":{"x":{"field":"t","type":"quantitative","scale":{"domain":[0,2],"nice":false,"zero":false},"axis":{"title":"Normalized Time (%)","titleFont":"Liberation Serif","labelFont":"Liberation Serif","titlePadding":-2,"values":[0,0.25,0.5,0.75,1,1.25,1.5,1.75,2],"labelExpr":"abs(datum.value*2-round(datum.value*2))>0.001?'':format(datum.value,'.1f')","tickSize":{"condition":{"test":"abs(datum.value*2-round(datum.value*2))>0.001","value":-3},"value":-6}}}},
   "layer":[
    {"mark":{"type":"line","color":"#3d6e9c","strokeWidth":1.3,"clip":true},"encoding":{"y":{"field":"b","type":"quantitative","scale":{"domain":[2.6,3.8],"nice":false,"zero":false},"axis":{"title":"Potential (V vs. Na/Na⁺)","titleFont":"Liberation Serif","labelFont":"Liberation Serif","labelPadding":16,"values":[2.6,2.7,2.8,2.9,3,3.1,3.2,3.3,3.4,3.5,3.6,3.7,3.8],"labelExpr":"abs(datum.value*5-round(datum.value*5))>0.001?'':format(datum.value,'.1f')","tickSize":{"condition":{"test":"abs(datum.value*5-round(datum.value*5))>0.001","value":-3},"value":-6}}}}},
    {"transform":[{"filter":"isValid(datum.s)"}],"mark":{"type":"rule","color":"#3d6e9c","strokeWidth":1.15,"clip":true},"encoding":{"y":{"field":"b","type":"quantitative"},"y2":{"field":"s"}}},
    {"data":{"values":[{"t":0.278,"b":3.586,"txt":"TEP"}]},"mark":{"type":"text","font":"Liberation Serif","fontSize":27,"color":"#4674a3"},"encoding":{"y":{"field":"b","type":"quantitative"},"text":{"field":"txt"}}},
    {"data":{"values":[{"t":1.473,"b":3.557,"txt":"Charge"},{"t":0.551,"b":2.995,"txt":"Discharge"}]},"mark":{"type":"text","font":"Liberation Serif","fontSize":21,"color":"#6a8fb6"},"encoding":{"y":{"field":"b","type":"quantitative"},"text":{"field":"txt"}}}
   ]}
 ]},
 {"spacing":11,"vconcat":[
  {"width":322,"height":252,
   "encoding":{"x":{"field":"t","type":"quantitative","scale":{"domain":[0.2345,0.2821],"nice":false,"zero":false},"axis":{"title":"Normalized Time (%)","titleFont":"Liberation Serif","labelFont":"Liberation Serif","titlePadding":6,"values":[0.24,0.25,0.26,0.27,0.28],"format":".2f"}},
     "y":{"field":"v","type":"quantitative","scale":{"domain":[3.3662,3.384],"nice":false,"zero":false},"axis":{"title":"Voltage (V)","titleFont":"Liberation Serif","labelFont":"Liberation Serif","labelPadding":12,"values":[3.368,3.372,3.376,3.38,3.384],"format":".3f"}}},
   "layer":[
    {"data":{"name":"dash"},"mark":{"type":"rule","color":"#2f5fa8","strokeWidth":1.6,"strokeDash":[7,3]},"encoding":{"x2":{"field":"t2"},"y2":{"field":"v2"}}},
    {"data":{"name":"arr"},"mark":{"type":"rule","color":"#3a6db5","strokeWidth":1.3},"encoding":{"x2":{"field":"t2"},"y2":{"field":"v2"}}},
    {"data":{"name":"head"},"transform":[{"filter":"datum.d=='l'"}],"mark":{"type":"point","shape":"M1,-1L0,0L1,1","filled":false,"size":30,"color":"#3a6db5","strokeWidth":1.3}},
    {"data":{"name":"head"},"transform":[{"filter":"datum.d=='r'"}],"mark":{"type":"point","shape":"M-1,-1L0,0L-1,1","filled":false,"size":30,"color":"#3a6db5","strokeWidth":1.3}},
    {"data":{"name":"head"},"transform":[{"filter":"datum.d=='u'"}],"mark":{"type":"point","shape":"M-1,1L0,0L1,1","filled":false,"size":20,"color":"#3a6db5","strokeWidth":1.3}},
    {"data":{"name":"head"},"transform":[{"filter":"datum.d=='dn'"}],"mark":{"type":"point","shape":"M-1,-1L0,0L1,-1","filled":false,"size":20,"color":"#3a6db5","strokeWidth":1.3}},
    {"data":{"name":"ins"},"mark":{"type":"line","color":"#e06a78","strokeWidth":1}},
    {"data":{"name":"ins"},"mark":{"type":"point","filled":true,"size":26,"color":"#e0505e","stroke":"#b83a48","strokeWidth":0.6,"opacity":1}},
    {"data":{"name":"lab"},"mark":{"type":"text","font":"Liberation Serif","fontSize":17,"color":"#333333"},"encoding":{"text":{"field":"txt"}}}
   ]},
  {"width":322,"height":260,
   "data":{"name":"logd"},
   "encoding":{"x":{"field":"x","type":"quantitative","scale":{"domain":[0,2],"nice":false,"zero":false},"axis":{"title":"Voltage (V)","titleFont":"Liberation Serif","labelFont":"Liberation Serif","titlePadding":6,"values":[0,0.5,1,1.5,2],"format":".1f"}},
     "y":{"field":"y","type":"quantitative","scale":{"domain":[-13,-7.5],"nice":false,"zero":false},"axis":{"title":"LogD (Na⁺/cm⁻²s⁻¹)","titleFont":"Liberation Serif","labelFont":"Liberation Serif","labelPadding":12,"values":[-13,-12,-11,-10,-9,-8],"labelExpr":"datum.value+''"}}},
   "layer":[
    {"transform":[{"filter":"datum.s=='TEP'"}],"mark":{"type":"line","color":"#6f9acb","strokeWidth":1}},
    {"transform":[{"filter":"datum.s=='FB'"}],"mark":{"type":"line","color":"#e07a86","strokeWidth":1}},
    {"transform":[{"filter":"datum.s=='TEP'"}],"mark":{"type":"point","filled":true,"size":42,"color":"#2f6aa3","stroke":"#1f4a78","strokeWidth":0.6,"opacity":1}},
    {"transform":[{"filter":"datum.s=='FB'"}],"mark":{"type":"point","filled":true,"size":42,"color":"#d9505e","stroke":"#a83444","strokeWidth":0.6,"opacity":1}}
   ]}
 ]}
]
}
